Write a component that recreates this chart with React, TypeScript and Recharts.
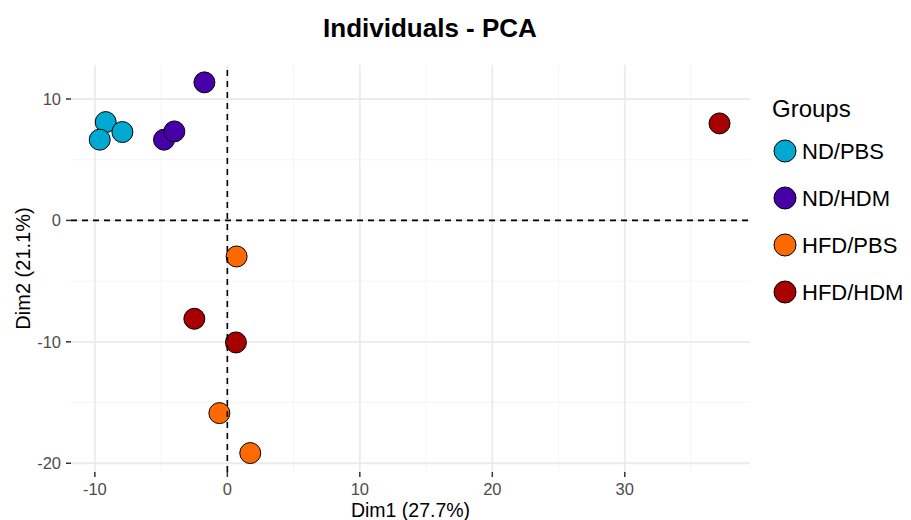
import { ScatterChart, Scatter, XAxis, YAxis, CartesianGrid, ReferenceLine } from 'recharts'

// PCA individuals, one array pair per group
const groups = ['ND/PBS', 'ND/HDM', 'HFD/PBS', 'HFD/HDM']
const groupColors = ['#00A9D2', '#4700A8', '#FF6A00', '#A80000']

const ndPbsX = [-9.18, -7.92, -9.63]
const ndPbsY = [8.1, 7.28, 6.65]
const ndHdmX = [-1.73, -4.78, -4.0]
const ndHdmY = [11.37, 6.65, 7.33]
const hfdPbsX = [0.7, -0.6, 1.73]
const hfdPbsY = [-2.97, -15.87, -19.16]
const hfdHdmX = [37.15, -2.49, 0.65]
const hfdHdmY = [7.99, -8.1, -10.05]

const xTicks = [-10, 0, 10, 20, 30]
const yTicks = [-20, -10, 0, 10]
const xMinor = [-5, 5, 15, 25, 35]
const yMinor = [-15, -5, 5]

const toPoints = (xs: number[], ys: number[]) => xs.map((x, i) => ({ x, y: ys[i] }))
const series = [
  toPoints(ndPbsX, ndPbsY),
  toPoints(ndHdmX, ndHdmY),
  toPoints(hfdPbsX, hfdPbsY),
  toPoints(hfdHdmX, hfdHdmY),
]

const font = '"Liberation Sans", Arial, Helvetica, sans-serif'

const dot = (color: string) => (props: any) => (
  <circle cx={props.cx} cy={props.cy} r={10.5} fill={color} stroke="#000" strokeWidth={1} />
)

export default function App() {
  return (
    <div style={{ position: 'absolute', left: 0, top: 0, width: 911, height: 520, background: '#fff', fontFamily: font }}>
      <ScatterChart width={911} height={520} margin={{ top: 65, right: 161, bottom: 0, left: 0 }}>
        <CartesianGrid horizontalValues={yMinor} verticalValues={xMinor} stroke="#F4F4F4" strokeWidth={0.9} />
        <CartesianGrid horizontalValues={yTicks} verticalValues={xTicks} stroke="#EBEBEB" strokeWidth={1.8} />
        <XAxis
          type="number"
          dataKey="x"
          domain={[-11.8, 39.45]}
          ticks={xTicks}
          allowDataOverflow
          axisLine={false}
          tickSize={5}
          tickMargin={6}
          tickLine={{ stroke: '#333', strokeWidth: 1.5 }}
          tick={{ fill: '#4D4D4D', fontSize: 16.5, fontFamily: font }}
          height={48}
          label={{ value: 'Dim1 (27.7%)', position: 'insideBottom', offset: 3, fill: '#000', fontSize: 19.5, fontFamily: font }}
        />
        <YAxis
          type="number"
          dataKey="y"
          domain={[-20.72, 12.8]}
          ticks={yTicks}
          allowDataOverflow
          axisLine={false}
          tickSize={5}
          tickMargin={5}
          tickLine={{ stroke: '#333', strokeWidth: 1.5 }}
          tick={{ fill: '#4D4D4D', fontSize: 16.5, fontFamily: font }}
          width={71}
          label={{ value: 'Dim2 (21.1%)', angle: -90, position: 'insideLeft', offset: 23, fill: '#000', fontSize: 20, fontFamily: font, style: { textAnchor: 'middle' } }}
        />
        {series.map((data, i) => (
          <Scatter key={groups[i]} name={groups[i]} data={data} shape={dot(groupColors[i])} isAnimationActive={false} />
        ))}
        <ReferenceLine y={0} stroke="#000" strokeWidth={1.6} strokeDasharray="6 5" zIndex={700} />
        <ReferenceLine x={0} stroke="#000" strokeWidth={1.6} strokeDasharray="6 5" zIndex={700} />
      </ScatterChart>

      {/* title and group legend */}
      <svg width={911} height={520} style={{ position: 'absolute', left: 0, top: 0, pointerEvents: 'none' }}>
        <text x={430} y={37} textAnchor="middle" fontSize={26} fontWeight="bold" fill="#000" fontFamily={font}>
          Individuals - PCA
        </text>
        <text x={772} y={117} fontSize={24} fill="#000" fontFamily={font}>
          Groups
        </text>
        {groups.map((g, i) => (
          <g key={g} transform={`translate(0, ${151 + i * 47})`}>
            <circle cx={785} cy={0} r={11} fill={groupColors[i]} stroke="#000" strokeWidth={1} />
            <text x={802} y={0} dy="0.36em" fontSize={22} fill="#000" fontFamily={font}>
              {g}
            </text>
          </g>
        ))}
      </svg>
    </div>
  )
}
